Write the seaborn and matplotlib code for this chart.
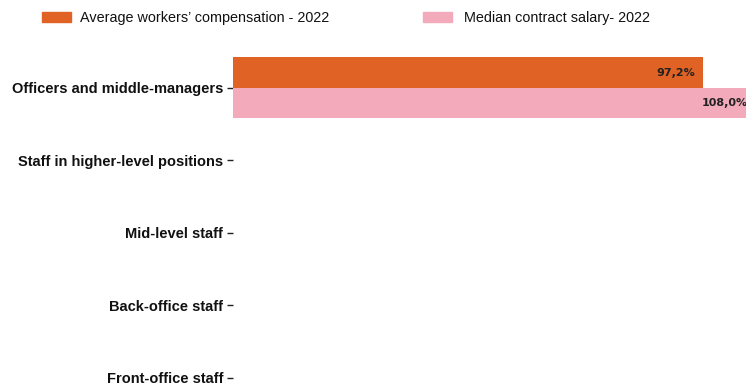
import matplotlib
matplotlib.use("Agg")
import matplotlib.pyplot as plt
import seaborn as sns
import pandas as pd
import numpy as np

categories = [
    "Officers and middle-managers",
    "Staff in higher-level positions",
    "Mid-level staff",
    "Back-office staff",
    "Front-office staff",
]
series_names = ["Average workers\u2019 compensation - 2022", "Median contract salary- 2022"]
avg_comp = [97.2, np.nan, np.nan, np.nan, np.nan]
median_salary = [108.0, np.nan, np.nan, np.nan, np.nan]
colors = ["#E06224", "#F3AABB"]

df = pd.DataFrame({
    "category": categories * 2,
    "series": [series_names[0]] * len(categories) + [series_names[1]] * len(categories),
    "value": avg_comp + median_salary,
})

sns.set_theme(style="white")
plt.rcParams["font.family"] = ["Liberation Sans", "DejaVu Sans"]

fig = plt.figure(figsize=(7.46, 3.85), dpi=100)
ax = fig.add_axes([233 / 746, -29 / 385, 1 - 233 / 746, 362.5 / 385])

sns.barplot(data=df, x="value", y="category", hue="series", order=categories,
            hue_order=series_names, palette=colors, orient="h", width=0.84,
            saturation=1, linewidth=0, ax=ax, legend=False)

ax.set_xlim(0, 106.1)
ax.set_xlabel("")
ax.set_ylabel("")
ax.set_xticks([])
for s in ax.spines.values():
    s.set_visible(False)
ax.tick_params(axis="y", length=4, width=1, color="#222222", left=True, pad=3)
for lbl in ax.get_yticklabels():
    lbl.set_fontweight("bold")
    lbl.set_fontsize(10.5)
    lbl.set_color("#111111")

for cont in ax.containers:
    for bar in cont:
        w = bar.get_width()
        if np.isnan(w) or w == 0:
            continue
        ax.text(w - 1.6, bar.get_y() + bar.get_height() / 2,
                f"{w:.1f}%".replace(".", ","), ha="right", va="center",
                fontsize=8, fontweight="bold", color="#222222",
                family=["DejaVu Sans"], clip_on=False)

# legend row: colour swatch followed by series name
legend_font = {"size": 10.4}
for color, name, hx, tx in zip(colors, series_names, [42, 423], [80, 464]):
    fig.patches.append(plt.Rectangle((hx / 746, 1 - 22 / 385), 29 / 746, 10 / 385,
                                     transform=fig.transFigure, color=color,
                                     figure=fig))
    fig.text(tx / 746, 1 - 18 / 385, name, ha="left", va="center",
             fontdict=legend_font, color="#111111")

fig.savefig("out.png", dpi=100)
